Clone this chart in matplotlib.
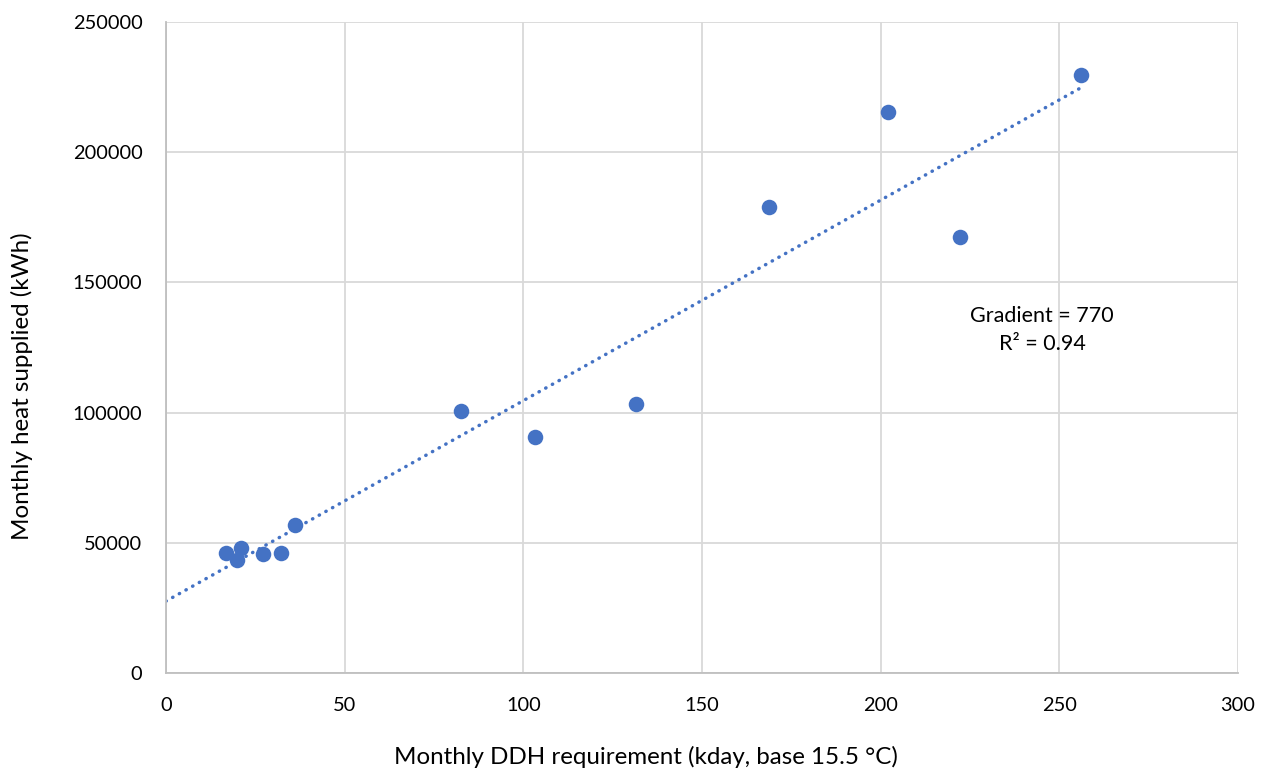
import matplotlib.pyplot as plt
import numpy as np

plt.rcParams["font.family"] = ["Lato", "DejaVu Sans"]

# Monthly degree-day heating requirement vs heat supplied
ddh_kday = [16.8, 19.9, 21.0, 27.1, 32.2, 36.1, 82.6, 103.3, 131.5, 168.8, 202.1, 222.2, 256.1]
heat_kwh = [46100, 43400, 48000, 45700, 46100, 56800, 100600, 90600, 103300, 179000, 215400, 167400, 229800]

gradient = 770
intercept = 27600
r_squared = 0.94

blue = "#4472C4"
grid_grey = "#D9D9D9"

fig = plt.figure(figsize=(12.63, 7.72), dpi=100)
ax = fig.add_axes([0.1314, 0.1282, 0.8488, 0.8433])

ax.scatter(ddh_kday, heat_kwh, s=125, color=blue, zorder=3, linewidths=0)

# linear trendline
x_fit = np.array([0, max(ddh_kday)])
ax.plot(x_fit, gradient * x_fit + intercept, color=blue, linewidth=2.5,
        linestyle=(0, (0.1, 2.1)), dash_capstyle="round", zorder=2)

ax.text(245.2, 131700, f"Gradient = {gradient}\nR² = {r_squared}", ha="center", va="center",
        fontsize=15.5, linespacing=1.45, color="#000000")

ax.set_xlim(0, 300)
ax.set_ylim(0, 250000)
ax.set_xticks(np.arange(0, 301, 50))
ax.set_yticks(np.arange(0, 250001, 50000))
ax.grid(True, color=grid_grey, linewidth=1.3)
ax.set_axisbelow(True)
ax.tick_params(length=0, labelsize=14.4, colors="#000000")
ax.tick_params(axis="x", pad=17)
ax.tick_params(axis="y", pad=17)

for side in ["top", "right"]:
    ax.spines[side].set_visible(False)
ax.spines["left"].set_color("#BFBFBF")
ax.spines["bottom"].set_color("#BFBFBF")
ax.spines["left"].set_linewidth(1.3)
ax.spines["bottom"].set_linewidth(1.3)

fig.text(646 / 1263, 1 - 757 / 772, "Monthly DDH requirement (kday, base 15.5 °C)",
         ha="center", va="center", fontsize=17.4)
fig.text(22 / 1263, 1 - 386 / 772, "Monthly heat supplied (kWh)",
         ha="center", va="center", rotation=90, fontsize=17.4)

fig.savefig("out.png", dpi=100)
